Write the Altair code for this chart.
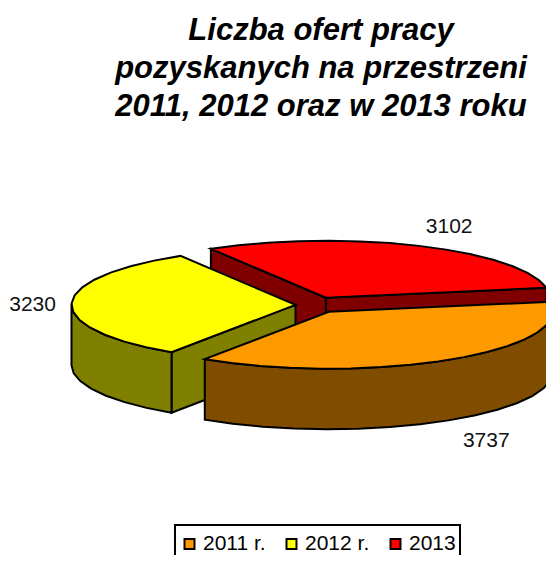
import math
import altair as alt

# Data
SERIES = ["2011 r.", "2012 r.", "2013"]
VALUES = [3737, 3230, 3102]
TITLE_LINES = ["Liczba ofert pracy", "pozyskanych na przestrzeni", "2011, 2012 oraz w 2013 roku"]
TOP_COLORS = ["#FF9900", "#FFFF00", "#FF0000"]
WALL_COLORS = ["#804D00", "#808000", "#800000"]

# 3-D pie geometry (pixels in the plot area)
PAD_TOP = 130
CX, CY = 317 - 8, 305 - 8 - PAD_TOP
RX, RY = 224, 57
DEPTH = 60.5
START = -10.0
EXPLODE_X, EXPLODE_Y = 21.5, 8.0
STEP = 8.0
LABEL_REACH = [(1.38, 2.85), (1.27, 0.0), (1.42, 1.5)]

total = sum(VALUES)
slices = []
a = START
for s, v in zip(SERIES, VALUES):
    sweep = 360.0 * v / total
    slices.append((s, a, a + sweep))
    a += sweep


def arc_points(apex, t0, t1, dy=0.0):
    n = max(1, int(round((t1 - t0) / STEP)))
    out = []
    for i in range(n + 1):
        t = math.radians(t0 + (t1 - t0) * i / n)
        out.append([apex[0] + RX * math.cos(t), apex[1] + RY * math.sin(t) + dy])
    return out


def feature(pts, name):
    ring = pts + [pts[0]]
    return {
        "type": "Feature",
        "geometry": {"type": "Polygon", "coordinates": [ring]},
        "properties": {"name": name},
    }


features = {}
labels = []
for idx, (s, t0, t1) in enumerate(slices):
    mid = math.radians((t0 + t1) / 2)
    apex = (CX + EXPLODE_X * math.cos(mid), CY + EXPLODE_Y * math.sin(mid))
    wall = s + " wall"
    items = []
    # straight cut faces turned towards the viewer
    visible = []
    if math.cos(math.radians(t0)) < 0:
        visible.append(t0)
    if math.cos(math.radians(t1)) > 0:
        visible.append(t1)
    for t in visible:
        e = arc_points(apex, t, t)[0]
        items.append(feature([[apex[0], apex[1]], e, [e[0], e[1] + DEPTH], [apex[0], apex[1] + DEPTH]], wall))
    # outer rim (front part only)
    r0 = max(t0, 0.0)
    r1 = min(t1, 180.0)
    if r1 > r0:
        top = arc_points(apex, r0, r1)
        bottom = arc_points(apex, r0, r1, DEPTH)
        items.append(feature(top + bottom[::-1], wall))
    items.append(feature([[apex[0], apex[1]]] + arc_points(apex, t0, t1), s))
    features[s] = items
    kx, ky = LABEL_REACH[idx]
    labels.append({
        "lon": CX + RX * math.cos(mid) * kx,
        "lat": CY + RY * math.sin(mid) * ky,
        "value": str(VALUES[idx]),
    })

# paint order: back slice first, then left, then front
ordered = features[SERIES[2]] + features[SERIES[1]] + features[SERIES[0]]

domain = SERIES + [s + " wall" for s in SERIES]
color_range = TOP_COLORS + WALL_COLORS

pie = alt.Chart(alt.InlineData(values=ordered, format=alt.DataFormat(type="json"))).mark_geoshape(
    stroke="black", strokeWidth=2, strokeJoin="miter"
).encode(
    color=alt.Color(
        "properties.name:N",
        scale=alt.Scale(domain=domain, range=color_range),
        legend=alt.Legend(
            title=None,
            values=SERIES,
            orient="none",
            legendX=175 - 8,
            legendY=525 - 8 - PAD_TOP,
            direction="horizontal",
            columns=3,
            symbolType="square",
            symbolSize=100,
            symbolStrokeColor="black",
            symbolStrokeWidth=2,
            symbolOpacity=1,
            labelFont="Liberation Sans",
            labelFontSize=21,
            labelColor="black",
            labelOffset=3,
            columnPadding=15,
            padding=4,
            clipHeight=30,
            strokeColor="black",
            fillColor="white",
            labelLimit=200,
        ),
    )
)

text = alt.Chart(alt.Data(values=labels)).mark_text(
    font="Liberation Sans", fontSize=21, color="#111111", align="center", baseline="middle"
).encode(longitude="lon:Q", latitude="lat:Q", text="value:N")

chart = alt.layer(pie, text).project(
    type="identity", scale=1, translate=[0, 0], reflectY=False
).properties(
    width=538,
    height=417,
    padding={"left": 0, "top": PAD_TOP, "right": 0, "bottom": 0},
    autosize=alt.AutoSizeParams(type="none"),
    title=alt.Title(
        text=TITLE_LINES,
        font="Liberation Sans",
        fontSize=31,
        fontWeight="bold",
        fontStyle="italic",
        color="black",
        anchor="middle",
        dx=44,
        offset=15,
        lineHeight=38,
    ),
).configure_view(stroke=None).configure_legend(strokeWidth=2)

chart.save("out.html", embed_options={"renderer": "svg", "actions": False})
